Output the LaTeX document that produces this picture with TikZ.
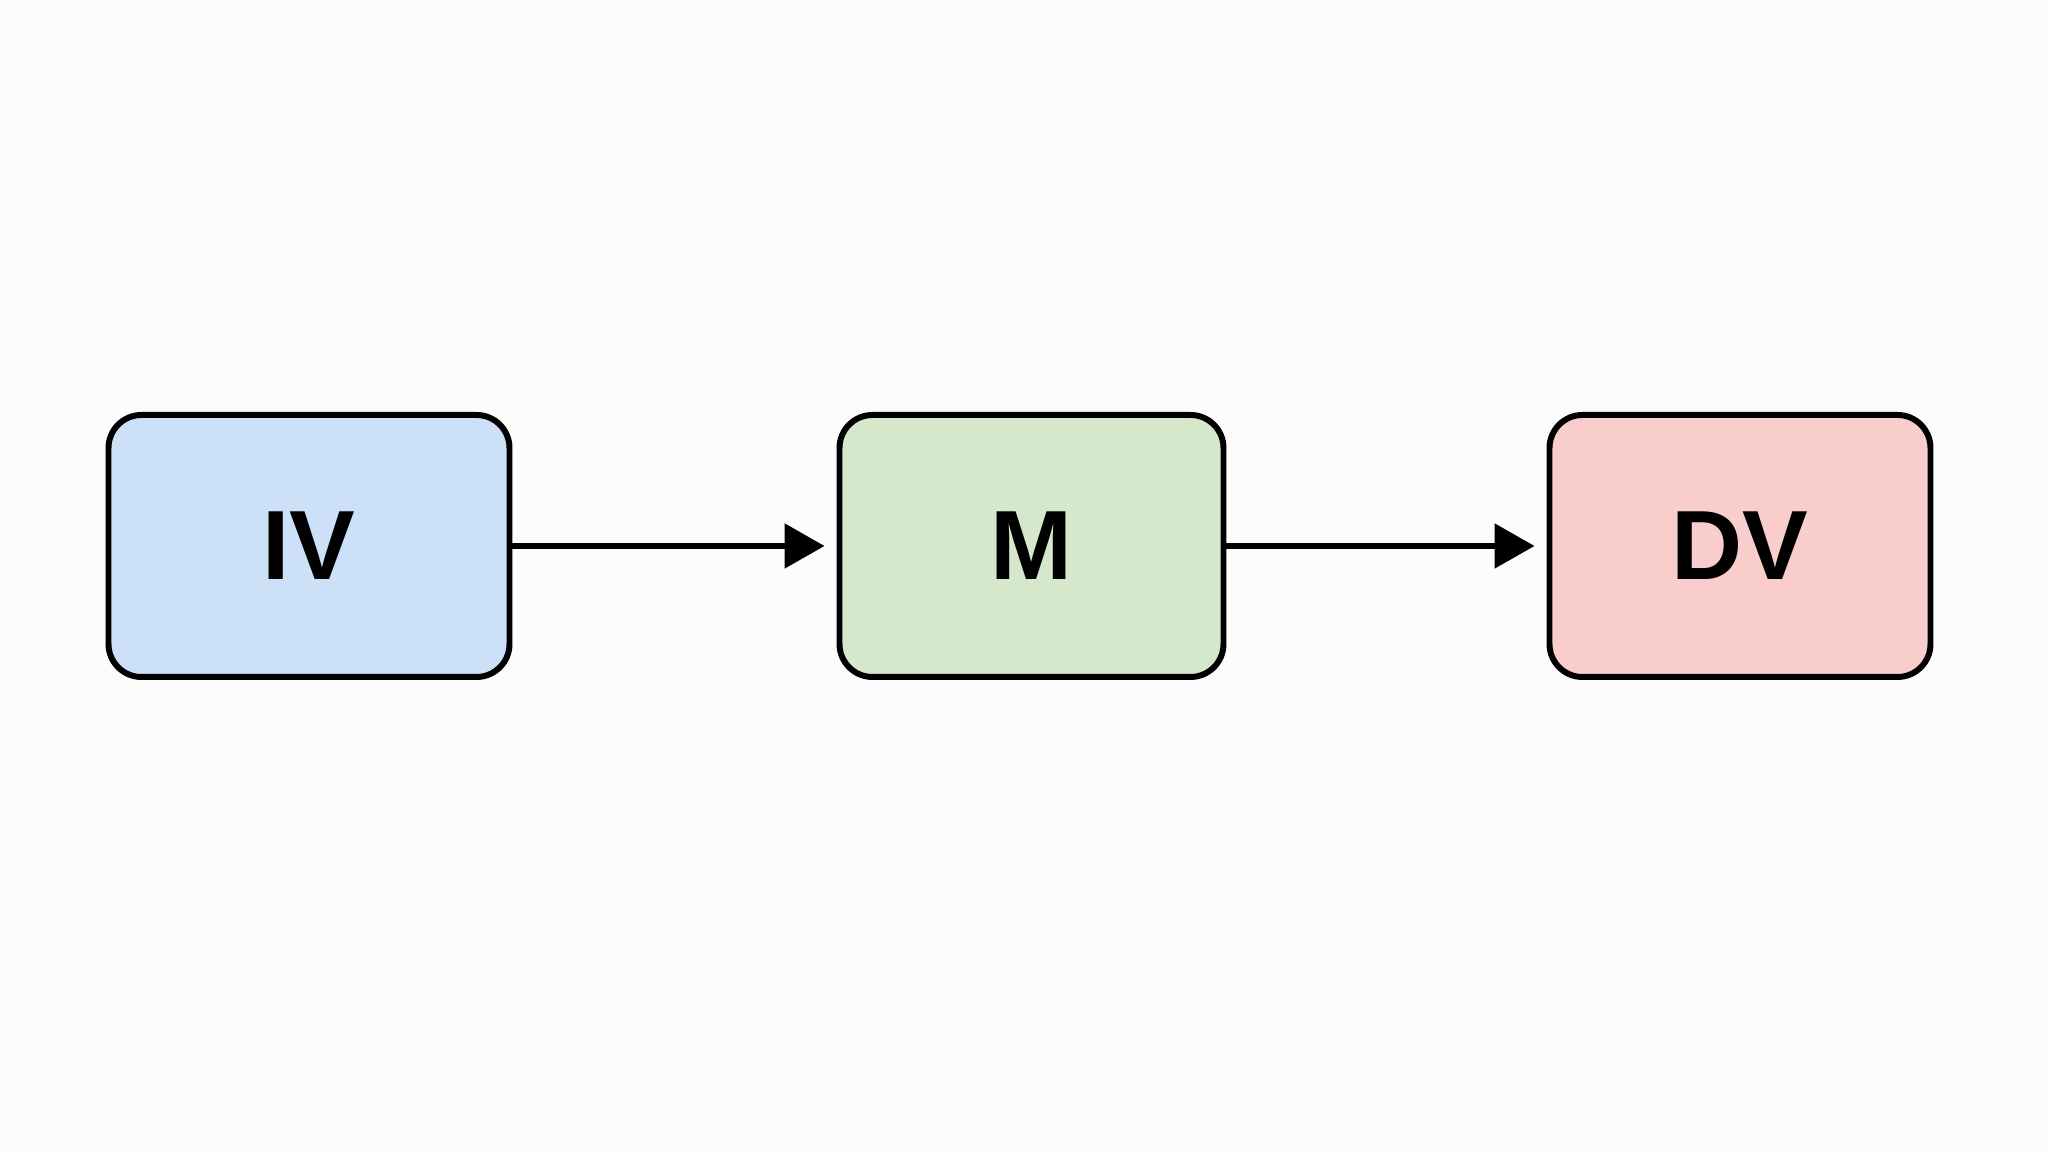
\documentclass[tikz,border=0pt]{standalone}
\usepackage{fontspec}
\setmainfont{Liberation Sans}
\usetikzlibrary{arrows.meta}
\definecolor{BoxBlue}{HTML}{CCE0F7}
\definecolor{BoxGreen}{HTML}{D5E8CB}
\definecolor{BoxRed}{HTML}{FACDCD}
\definecolor{PageGrey}{HTML}{FCFCFC}

\begin{document}
\begin{tikzpicture}[varbox/.style={draw,line width=1.7pt,rounded corners=3.3mm,minimum height=2.62cm,font=\fontsize{28}{32}\selectfont\bfseries},
  link/.style={-{Triangle[length=4mm,width=4.4mm]},line width=1.6pt,shorten >=1.2mm}]
  \fill[PageGrey] (0,0) rectangle (20.48,11.52);
  \useasboundingbox (0,0) rectangle (20.48,11.52);
  \node[varbox,fill=BoxBlue,minimum width=4.01cm] (iv) at (3.09,6.06) {IV};
  \node[varbox,fill=BoxGreen,minimum width=3.84cm] (m) at (10.315,6.06) {M};
  \node[varbox,fill=BoxRed,minimum width=3.81cm] (dv) at (17.40,6.06) {DV};
  \draw[link] (iv) -- (m); \draw[link] (m) -- (dv);
\end{tikzpicture}
\end{document}
